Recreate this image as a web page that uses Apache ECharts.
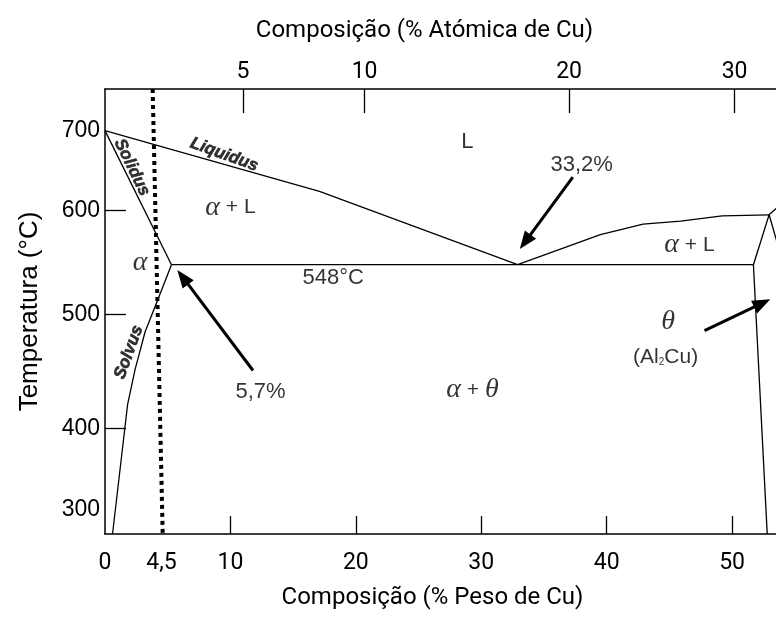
<!DOCTYPE html>
<html>
<head>
<meta charset="utf-8">
<title>Diagrama Al-Cu</title>
<script src="https://cdn.jsdelivr.net/npm/echarts@6/dist/echarts.min.js"></script>
<style>
  html, body { margin: 0; padding: 0; background: #fff; }
  #chart { width: 776px; height: 619px; }
</style>
</head>
<body>
<div id="chart"></div>
<script>
// composição em % peso de Cu (x), temperatura em °C (y)
const wtLabels = [0, 4.5, 10, 20, 30, 40, 50];
const wtTicks = [10, 20, 30, 40, 50];
const atLabels = [5, 10, 20, 30];
const atPosWt = [11.0, 20.7, 37.0, 50.2];
const tempLabels = [300, 400, 500, 600, 700];
const tempTicks = [400, 500, 600];

// linhas do diagrama
const liquidusL = [[0, 700], [17.1, 624], [32.9, 548]];
const solidus = [[0, 700], [5.3, 548]];
const solvusAlpha = [[5.3, 548], [4.2, 514], [3.2, 485], [2.4, 452], [1.8, 421], [0.6, 270]];
const eutectic = [[5.3, 548], [51.7, 548]];
const liquidusR = [[32.9, 548], [39.5, 577], [42.9, 587], [45.9, 590], [49.2, 595], [52.95, 596]];
const thetaLiq = [[51.7, 548], [52.95, 596]];
const thetaSolvus = [[51.7, 548], [52.8, 270]];
const thetaRight = [[52.95, 596], [53.6, 569]];
const thetaUp = [[52.95, 596], [53.6, 604]];
const alloy45 = [[3.8, 752], [4.6, 270]];

// setas: [inicio, ponta]
const arrows = [
    [[37.3, 642], [33.5, 570]],
    [[11.8, 451], [6.2, 536]],
    [[47.8, 486], [52.4, 511]]
];

// o eixo de temperatura do desenho nao e linear: espacamento entre 300,400,...,700
const warpT = [300, 400, 500, 600, 700];
const warpV = [0, 81, 195, 299, 379];
function tv(t) {
    let i = 0;
    if (t > warpT[warpT.length - 1]) i = warpT.length - 2;
    else while (i < warpT.length - 2 && t > warpT[i + 1]) i++;
    const k = (warpV[i + 1] - warpV[i]) / (warpT[i + 1] - warpT[i]);
    return warpV[i] + (t - warpT[i]) * k;
}
function conv(pts) {
    return pts.map(p => [p[0], tv(p[1])]);
}

const SANS = 'Liberation Sans';
const NARROW = 'Roboto';
const INK = '#000';

function boundary(pts, extra) {
    return Object.assign({
        type: 'line',
        data: conv(pts),
        symbol: 'none',
        silent: true,
        clip: true,
        lineStyle: { color: '#000', width: 1.3 }
    }, extra || {});
}

// textos dentro do diagrama
const notes = [
    { x: 28.9, t: 686, text: '{n|L}' },
    { x: 38.0, t: 657, text: '{n|33,2%}' },
    { x: 10.0, t: 604, text: '{g|α}{s| + L}' },
    { x: 2.8, t: 550, text: '{g|α}' },
    { x: 18.2, t: 535, text: '{n|548°C}' },
    { x: 46.6, t: 567, text: '{g|α}{s| + L}' },
    { x: 44.9, t: 494, text: '{g|θ}' },
    { x: 44.7, t: 463, text: '{s|(Al}{sub|2}{s|Cu)}' },
    { x: 29.3, t: 434, text: '{g|α}{s| + }{g|θ}' },
    { x: 12.4, t: 432, text: '{n|5,7%}' },
    { x: 9.5, t: 670, text: '{b|Liquidus}', rot: -20 },
    { x: 2.15, t: 654, text: '{b|Solidus}', rot: -64 },
    { x: 1.9, t: 467, text: '{b|Solvus}', rot: 70 }
];

const chart = echarts.init(document.getElementById('chart'));

const tempPos = tempLabels.map(tv);

chart.setOption({
    animation: false,
    backgroundColor: '#fff',
    grid: { left: 105, right: 0, top: 89, bottom: 85, outerBoundsMode: 'none' },
    xAxis: [{
        type: 'value',
        position: 'bottom',
        min: 0,
        max: 53.5,
        name: 'Composição (% Peso de Cu)',
        nameLocation: 'middle',
        nameGap: 52,
        nameTextStyle: { fontFamily: NARROW, fontSize: 24, color: INK, padding: [0, 16, 0, 0] },
        axisLine: { onZero: false, lineStyle: { color: '#000', width: 1.5 } },
        axisTick: { inside: true, length: 18, customValues: wtTicks, lineStyle: { color: '#000', width: 1.3 } },
        axisLabel: {
            customValues: wtLabels,
            margin: 18,
            fontFamily: NARROW,
            fontSize: 23,
            color: INK,
            formatter: v => String(v).replace('.', ',')
        },
        splitLine: { show: false }
    }, {
        type: 'value',
        position: 'top',
        min: 0,
        max: 53.5,
        name: 'Composição (% Atómica de Cu)',
        nameLocation: 'middle',
        nameGap: 46,
        nameTextStyle: { fontFamily: NARROW, fontSize: 24, color: INK, padding: [0, 32, 0, 0] },
        axisLine: { onZero: false, lineStyle: { color: '#000', width: 1.5 } },
        axisTick: { inside: true, length: 24, customValues: atPosWt, lineStyle: { color: '#000', width: 1.3 } },
        axisLabel: {
            customValues: atPosWt,
            margin: 5,
            fontFamily: NARROW,
            fontSize: 23,
            color: INK,
            formatter: v => {
                const i = atPosWt.findIndex(p => Math.abs(p - v) < 1e-6);
                return i < 0 ? '' : String(atLabels[i]);
            }
        },
        splitLine: { show: false }
    }],
    yAxis: {
        type: 'value',
        min: tv(270),
        max: tv(752),
        name: 'Temperatura (°C)',
        nameLocation: 'middle',
        nameGap: 62,
        nameTextStyle: { fontFamily: SANS, fontSize: 26, color: INK },
        axisLine: { onZero: false, lineStyle: { color: '#000', width: 1.5 } },
        axisTick: { inside: true, length: 21, customValues: tempTicks.map(tv), lineStyle: { color: '#000', width: 1.3 } },
        axisLabel: {
            customValues: tempPos,
            margin: 5,
            fontFamily: SANS,
            fontSize: 23,
            color: INK,
            padding: [0, 0, 7, 0],
            formatter: v => {
                const i = tempPos.findIndex(p => Math.abs(p - v) < 1e-6);
                return i < 0 ? '' : String(tempLabels[i]);
            }
        },
        splitLine: { show: false }
    },
    series: [
        boundary(liquidusL),
        boundary(solidus),
        boundary(solvusAlpha),
        boundary(eutectic, {
            markLine: {
                silent: true,
                symbol: ['none', 'triangle'],
                symbolSize: [14, 18],
                label: { show: false },
                lineStyle: { color: '#000', width: 3, type: 'solid' },
                data: arrows.map(a => [
                    { coord: [a[0][0], tv(a[0][1])] },
                    { coord: [a[1][0], tv(a[1][1])] }
                ])
            }
        }),
        boundary(liquidusR),
        boundary(thetaLiq),
        boundary(thetaSolvus),
        boundary(thetaRight),
        boundary(thetaUp),
        boundary(alloy45, { lineStyle: { color: '#000', width: 4, type: [4, 4] } }),
        {
            type: 'scatter',
            symbolSize: 0,
            silent: true,
            data: notes.map(n => ({
                value: [n.x, tv(n.t)],
                label: { formatter: n.text, rotate: n.rot || 0 }
            })),
            label: {
                show: true,
                position: 'inside',
                color: INK,
                rich: {
                    n: { fontFamily: SANS, fontSize: 22, color: INK },
                    s: { fontFamily: SANS, fontSize: 21, color: INK },
                    sub: { fontFamily: SANS, fontSize: 10, color: INK, verticalAlign: 'bottom', padding: [9, 0, 0, 0] },
                    g: { fontFamily: 'Liberation Serif', fontStyle: 'italic', fontSize: 28, color: INK },
                    b: { fontFamily: SANS, fontStyle: 'italic', fontWeight: 'bold', fontSize: 17, color: '#000',
                         textBorderColor: '#000', textBorderWidth: 0.6 }
                }
            }
        }
    ]
});
</script>
</body>
</html>
